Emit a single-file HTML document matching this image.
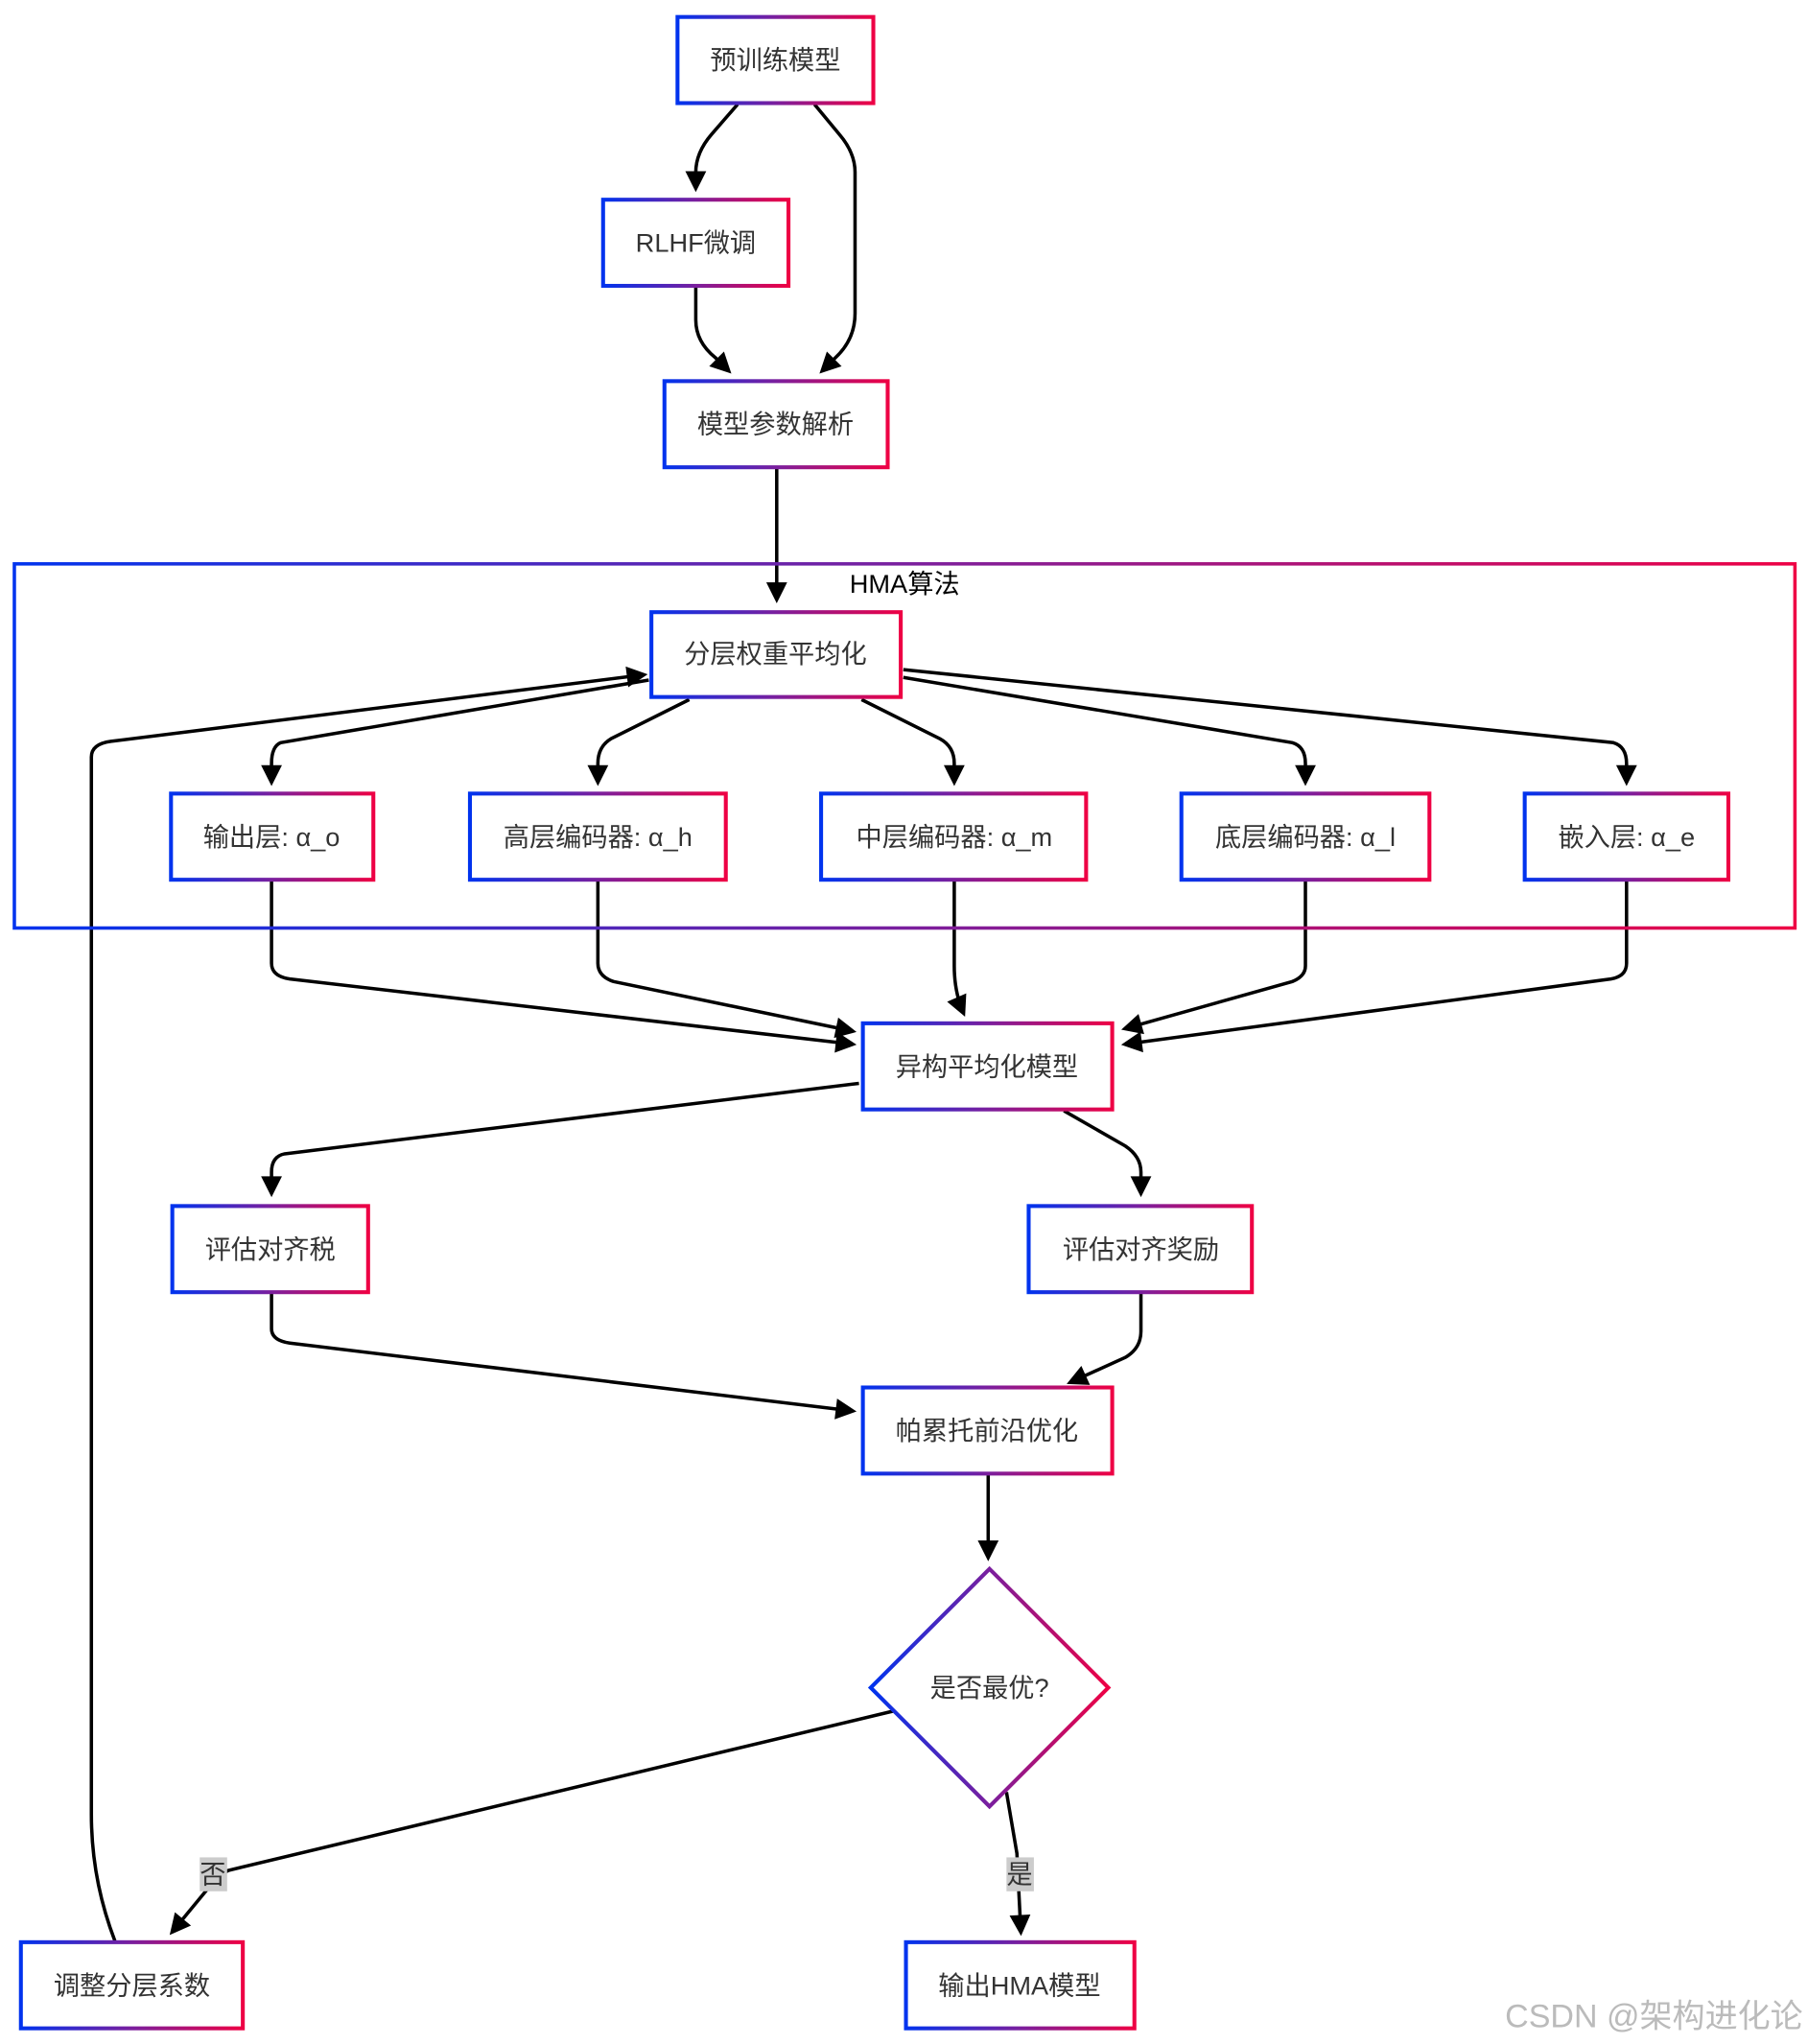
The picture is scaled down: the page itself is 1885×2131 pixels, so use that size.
<!DOCTYPE html>
<html><head><meta charset="utf-8"><style>
html,body{margin:0;padding:0;background:#fff;}
svg{display:block;}
text{font-family:"Liberation Sans","Noto Sans CJK SC",sans-serif;font-size:20px;fill:#333;text-anchor:middle;dominant-baseline:central;}
</style></head><body>
<svg width="1885" height="2131" viewBox="0 0 1385 1566" preserveAspectRatio="none" xmlns="http://www.w3.org/2000/svg">
<defs>
<linearGradient id="g" x1="0" y1="0" x2="1" y2="0">
<stop offset="0" stop-color="#0033ee"/><stop offset="0.5" stop-color="#7a1f9e"/><stop offset="1" stop-color="#ee0044"/>
</linearGradient>
<marker id="a" viewBox="0 0 10 10" refX="9" refY="5" markerWidth="10" markerHeight="10" orient="auto-start-reverse" markerUnits="userSpaceOnUse" style="overflow:visible">
<path d="M0,0 L10,5 L0,10 z" fill="#000" transform="translate(9,5) scale(1.6) translate(-8,-5)"/>
</marker>
</defs>
<g fill="none" stroke="#000" stroke-width="2.6" marker-end="url(#a)">
<path d="M565,80 L545,103 Q533,117 533,132 L533,144"/>
<path d="M624,80 L643,103 Q655,117 655,132 L655,240 Q655,260 640,274 L630,284"/>
<path d="M533,219 L533,245 Q533,262 548,274 L558,284"/>
<path d="M595,358 L595,459"/>
<path d="M497,521 L215,569 Q208,572 208,585 L208,599"/>
<path d="M528,536 L468,566 Q458,572 458,585 L458,599"/>
<path d="M660,536 L720,566 Q731,572 731,585 L731,599"/>
<path d="M692,519 L990,569 Q1000,572 1000,585 L1000,599"/>
<path d="M692,513 L1236,569 Q1246,572 1246,585 L1246,599"/>
<path d="M208,674 L208,738 Q208,748 222,750 L653,800"/>
<path d="M458,674 L458,738 Q458,748 470,752 L653,790"/>
<path d="M731,674 L731,740 Q731,760 738,776"/>
<path d="M1000,674 L1000,740 Q1000,748 990,752 L862,788"/>
<path d="M1246,674 L1246,738 Q1246,748 1234,750 L862,800"/>
<path d="M658,830 L218,884 Q208,886 208,898 L208,914"/>
<path d="M815,851 L862,878 Q874,886 874,898 L874,914"/>
<path d="M208,990 L208,1018 Q208,1027 222,1029 L653,1081"/>
<path d="M874,990 L874,1020 Q874,1033 862,1040 L820,1059"/>
<path d="M757,1129 L757,1193"/>
<path d="M684,1311 L175,1433 Q165,1438 160,1446 L132,1480"/>
<path d="M771,1373 L779,1420 L782,1480"/>
<path d="M88,1487 Q70,1440 70,1390 L70,580 Q70,570 85,568 L493,517"/>
</g>
<rect x="11" y="432" width="1364" height="279" fill="none" stroke="url(#g)" stroke-width="2.6"/>
<text x="693" y="447" style="fill:#000">HMA算法</text>
<g fill="#fff" stroke="url(#g)" stroke-width="3">
<rect x="519" y="13" width="150" height="66"/>
<rect x="462" y="153" width="142" height="66"/>
<rect x="509" y="292" width="171" height="66"/>
<rect x="499" y="469" width="191" height="65"/>
<rect x="131" y="608" width="155" height="66"/>
<rect x="360" y="608" width="196" height="66"/>
<rect x="629" y="608" width="203" height="66"/>
<rect x="905" y="608" width="190" height="66"/>
<rect x="1168" y="608" width="156" height="66"/>
<rect x="661" y="784" width="191" height="66"/>
<rect x="132" y="924" width="150" height="66"/>
<rect x="788" y="924" width="171" height="66"/>
<rect x="661" y="1063" width="191" height="66"/>
<path d="M758,1202 L849,1293 L758,1384 L667,1293 z"/>
<rect x="16" y="1488" width="170" height="66"/>
<rect x="694" y="1488" width="175" height="66"/>
</g>
<text x="594" y="46">预训练模型</text>
<text x="533" y="186">RLHF微调</text>
<text x="594" y="325">模型参数解析</text>
<text x="594" y="501">分层权重平均化</text>
<text x="208" y="641">输出层: α_o</text>
<text x="458" y="641">高层编码器: α_h</text>
<text x="731" y="641">中层编码器: α_m</text>
<text x="1000" y="641">底层编码器: α_l</text>
<text x="1246" y="641">嵌入层: α_e</text>
<text x="756" y="817">异构平均化模型</text>
<text x="207" y="957">评估对齐税</text>
<text x="874" y="957">评估对齐奖励</text>
<text x="756" y="1096">帕累托前沿优化</text>
<text x="758" y="1293">是否最优?</text>
<text x="101" y="1521">调整分层系数</text>
<text x="781" y="1521">输出HMA模型</text>
<rect x="153" y="1423" width="21" height="26" fill="#ccc"/>
<text x="163" y="1436">否</text>
<rect x="771" y="1423" width="21" height="26" fill="#ccc"/>
<text x="781" y="1436">是</text>
<text x="1267" y="1545" style="fill:#bbb;font-size:25px">CSDN @架构进化论</text>
</svg>
</body></html>
